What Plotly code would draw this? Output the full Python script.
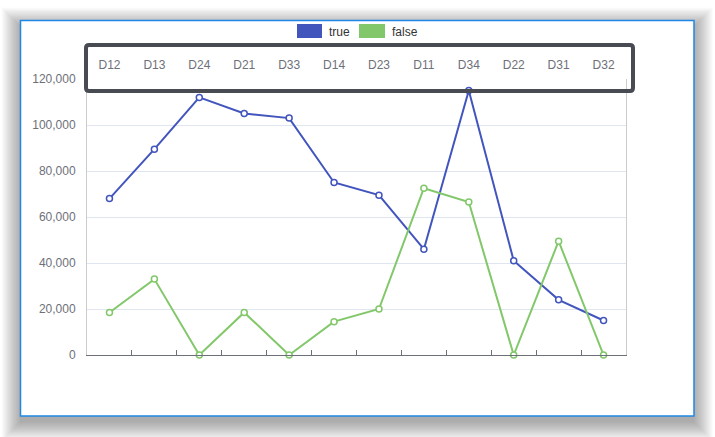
import plotly.graph_objects as go

categories = ["D12", "D13", "D24", "D21", "D33", "D14", "D23", "D11", "D34", "D22", "D31", "D32"]
true_values = [68000, 89500, 112000, 105000, 103000, 75000, 69500, 46000, 115000, 41000, 24000, 15000]
false_values = [18500, 33000, 0, 18500, 0, 14500, 20000, 72500, 66500, 0, 49500, 0]
series_names = ["true", "false"]
y_ticks = [0, 20000, 40000, 60000, 80000, 100000, 120000]

W, H = 715, 437
L, R, T, B = 87, 626, 79, 355
BLUE = "#4255bd"
GREEN = "#82c86a"
TXT = "#6E7079"


def px(x):
    return (x - L) / (R - L)


def py(y):
    return (B - y) / (B - T)


fig = go.Figure()
for name, vals, col in [(series_names[0], true_values, BLUE), (series_names[1], false_values, GREEN)]:
    fig.add_trace(go.Scatter(
        x=categories, y=vals, name=name, mode="lines+markers",
        line=dict(color=col, width=2),
        marker=dict(symbol="circle", size=6, color="white", line=dict(color=col, width=1.5)),
        showlegend=False, cliponaxis=False,
    ))
# invisible trace for the top category axis
fig.add_trace(go.Scatter(x=categories, y=[None] * len(categories), xaxis="x2",
                         showlegend=False, hoverinfo="skip"))

shapes = []
# soft shadow
cx0, cy0, cx1, cy1 = 20.5, 20.5, 694, 416
steps = 18
for i in range(steps):
    g = 1.1 * (steps - i)
    shapes.append(dict(type="rect", xref="paper", yref="paper",
                       x0=px(cx0 - g + 1), x1=px(cx1 + g - 1), y0=py(cy0 - g + 7), y1=py(cy1 + g + 5),
                       line=dict(width=0), fillcolor="rgba(0,0,0,0.019)", layer="below"))
shapes.append(dict(type="rect", xref="paper", yref="paper",
                   x0=px(cx0), x1=px(cx1), y0=py(cy0), y1=py(cy1),
                   line=dict(color="#1f88e5", width=1.5), fillcolor="white", layer="below"))

# rounded dark box around top labels
bx0, by0, bx1, by1, r = 86, 45, 633, 91, 3
path = (f"M {px(bx0 + r)},{py(by0)} L {px(bx1 - r)},{py(by0)} "
        f"Q {px(bx1)},{py(by0)} {px(bx1)},{py(by0 + r)} L {px(bx1)},{py(by1 - r)} "
        f"Q {px(bx1)},{py(by1)} {px(bx1 - r)},{py(by1)} L {px(bx0 + r)},{py(by1)} "
        f"Q {px(bx0)},{py(by1)} {px(bx0)},{py(by1 - r)} L {px(bx0)},{py(by0 + r)} "
        f"Q {px(bx0)},{py(by0)} {px(bx0 + r)},{py(by0)} Z")
shapes.append(dict(type="path", xref="paper", yref="paper", path=path,
                   line=dict(color="#494b52", width=4), layer="above"))

# legend swatches
for (x0, x1), col in [((297, 322), BLUE), ((359, 385), GREEN)]:
    shapes.append(dict(type="rect", xref="paper", yref="paper",
                       x0=px(x0), x1=px(x1), y0=py(24), y1=py(38),
                       line=dict(width=0), fillcolor=col))

FONT = "Liberation Sans, Arial, Helvetica, sans-serif"
annotations = [
    dict(text=series_names[0], x=px(327), y=py(31.5), xref="paper", yref="paper",
         xanchor="left", yanchor="middle", showarrow=False, font=dict(size=12, color="#333", family=FONT)),
    dict(text=series_names[1], x=px(390), y=py(31.5), xref="paper", yref="paper",
         xanchor="left", yanchor="middle", showarrow=False, font=dict(size=12, color="#333", family=FONT)),
]

fig.update_layout(
    width=W, height=H,
    margin=dict(l=L, r=W - R, t=T, b=H - B),
    paper_bgcolor="white", plot_bgcolor="white",
    font=dict(family=FONT, size=12, color=TXT),
    shapes=shapes, annotations=annotations,
    xaxis=dict(type="category", categoryorder="array", categoryarray=categories,
               range=[-0.5, len(categories) - 0.5], showticklabels=False,
               ticks="inside", ticklen=5, tickcolor=TXT, tickson="boundaries",
               showline=True, linecolor=TXT, linewidth=1, showgrid=False, zeroline=False),
    xaxis2=dict(type="category", categoryorder="array", categoryarray=categories,
                range=[-0.5, len(categories) - 0.5], overlaying="x", side="top",
                showticklabels=True, ticks="", showline=False, showgrid=False,
                ticklabelstandoff=7, tickfont=dict(size=12, color=TXT)),
    yaxis=dict(range=[0, 120000], tickvals=y_ticks, tickformat=",d",
               showgrid=True, gridcolor="#E0E6F1", gridwidth=1,
               showline=True, linecolor="#cccccc", mirror=True, zeroline=False,
               ticks="", ticklabelstandoff=8, tickfont=dict(size=12, color=TXT)),
)

fig.write_html("out.html")
